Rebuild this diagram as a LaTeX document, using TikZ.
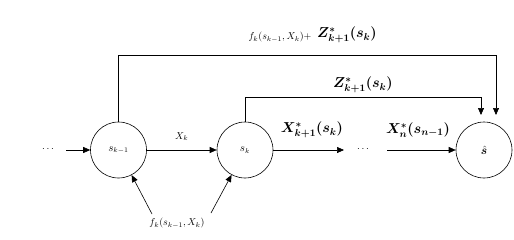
\documentclass[tikz,border=0pt]{standalone}
\usepackage{bm}
\usepackage{fontspec}
\setmainfont{Liberation Serif}
\usetikzlibrary{arrows.meta}
\begin{document}
\begin{tikzpicture}[x=1pt,y=-1pt,line width=0.6pt,
  st/.style={circle,draw,minimum size=56pt,inner sep=0pt,font=\fontsize{10.5}{12}\selectfont},
  arr/.style={-{Triangle[width=6pt,length=7pt]}},
  sm/.style={font=\fontsize{10}{12}\selectfont,inner sep=0pt},
  bg/.style={font=\fontsize{14}{16}\selectfont,inner sep=0pt}]
\useasboundingbox (0,0) rectangle (514,239);
\node[st] (a) at (118.5,150) {$s_{k-1}$};
\node[st] (b) at (245,150) {$s_k$};
\node[st] (c) at (484,150) {\fontsize{12}{14}\selectfont$\bm{\hat{s}}$};
% left input
\node[sm] (d0) at (48,149) {$\cdots$};
\coordinate (d1) at (66,150);
\draw[arr] (d1) -- (a.west);
% a -> b
\draw[arr] (a.east) -- (b.west) node[sm,midway,above=9pt] {$X_k$};
% b -> ...
\coordinate (e1) at (344,150);
\draw[arr] (b.east) -- (e1);
\node[bg] (l1) at (312,130) {$\bm{X^*_{k+1}(s_k)}$};
\node[sm] (d2) at (363,149) {$\cdots$};
\coordinate (e2) at (387,150);
\draw[arr] (e2) -- (c.west);
\node[bg] (l2) at (418,130) {$\bm{X^*_{n}(s_{n-1})}$};
% top loops
\coordinate (t1) at (118.5,55);
\coordinate (t1e) at (496,115);
\draw[arr] (a.north) -- (t1) -| (t1e);
\coordinate (t2) at (245,97);
\coordinate (t2e) at (481,115);
\draw[arr] (b.north) -- (t2) -| (t2e);
\node[sm] (l3) at (280,37) {$f_k(s_{k-1},X_k)+$};
\node[bg] (l4) at (347,35) {$\bm{Z^*_{k+1}(s_k)}$};
\node[bg] (l5) at (363,85) {$\bm{Z^*_{k+1}(s_k)}$};
% bottom input
\node[sm] (f) at (177,223) {$f_k(s_{k-1},X_k)$};
\coordinate (fl) at (152,214);
\coordinate (fr) at (211,213);
\draw[arr] (fl) -- (a);
\draw[arr] (fr) -- (b);
\end{tikzpicture}
\end{document}
